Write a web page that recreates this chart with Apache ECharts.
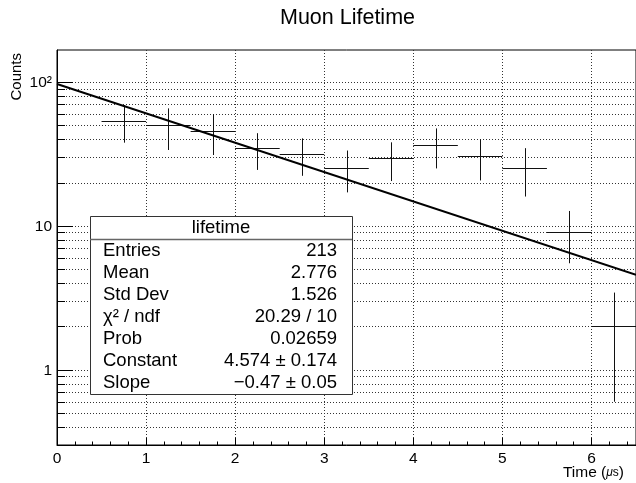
<!DOCTYPE html>
<html>
<head>
<meta charset="utf-8">
<script src="https://cdn.jsdelivr.net/npm/echarts@6/dist/echarts.min.js"></script>
<style>
  html, body { margin: 0; padding: 0; background: #fff; }
  #main { width: 636px; height: 483px; }
</style>
</head>
<body>
<div id="main"></div>
<script>
// histogram bins (width 0.5), value and error bar ends
var binCenters = [0.75, 1.25, 1.75, 2.25, 2.75, 3.25, 3.75, 4.25, 4.75, 5.25, 5.75, 6.25];
var binCounts  = [53.9, 50.0, 45.7, 34.7, 31.5, 25.4, 29.5, 36.5, 30.5, 25.4, 9.1, 2.0];
var errLow     = [37.9, 33.7, 31.1, 24.5, 22.3, 17.1, 20.5, 25.1, 20.7, 16.0, 5.5, 0.6];
var errHigh    = [69.2, 65.6, 59.9, 44.1, 40.6, 33.4, 38.1, 47.6, 40.0, 34.7, 12.7, 3.44];
var binHalf = 0.25;

// exponential fit (straight on log axis), end points
var fitX = [0, 6.5];
var fitY = [96.9, 4.57];

// axis ticks
var xTicks = [0, 1, 2, 3, 4, 5, 6];
var yMajor = [1, 10, 100];
var yMajorLabels = ['1', '10', '10²'];
var yMinor = [0.3, 0.4, 0.5, 0.6, 0.7, 0.8, 0.9, 2, 3, 4, 5, 6, 7, 8, 9, 20, 30, 40, 50, 60, 70, 80, 90];

// stats box
var statsTitle = 'lifetime';
var statsNames  = ['Entries', 'Mean', 'Std Dev', 'χ² / ndf', 'Prob', 'Constant', 'Slope'];
var statsValues = ['213', '2.776', '1.526', '20.29 / 10', '0.02659', '4.574 ± 0.174', '−0.47 ± 0.05'];

var FONT = 'Liberation Sans, Arial, Helvetica, sans-serif';
var X_MIN = 0, X_MAX = 6.5, Y_MIN = 0.3, Y_MAX = 167;

var myChart = echarts.init(document.getElementById('main'), null, { renderer: 'canvas' });

var errData = [];
for (var i = 0; i < binCenters.length; i++) {
  errData.push([binCenters[i], binCounts[i], errLow[i], errHigh[i]]);
}
var fitData = [];
for (var j = 0; j < fitX.length; j++) fitData.push([fitX[j], fitY[j]]);

var yTickData = [];
yMajor.forEach(function (v, k) { yTickData.push([0, v, 1, k]); });
yMinor.forEach(function (v) { yTickData.push([0, v, 0, -1]); });

// stats box graphic (drawn on top of grid lines)
var boxX = 90, boxY = 216, boxW = 262, boxH = 178;
var STATS_FS = 18.5;
var graphics = [
  { type: 'rect', z: 100, shape: { x: boxX + 0.5, y: boxY + 0.5, width: boxW, height: boxH },
    style: { fill: '#fff', stroke: '#333', lineWidth: 1 } },
  { type: 'line', z: 101, shape: { x1: boxX, y1: 239.5, x2: boxX + boxW, y2: 239.5 },
    style: { stroke: '#666', lineWidth: 1.5 } },
  { type: 'text', z: 101, style: { text: statsTitle, x: boxX + boxW / 2, y: 228, align: 'center', verticalAlign: 'middle',
    fontSize: STATS_FS, fontFamily: FONT, fill: '#000' } }
];
statsNames.forEach(function (name, k) {
  var yy = 251 + 21.95 * k;
  graphics.push({ type: 'text', z: 101, style: { text: name, x: 103, y: yy, align: 'left', verticalAlign: 'middle',
    fontSize: STATS_FS, fontFamily: FONT, fill: '#000' } });
  graphics.push({ type: 'text', z: 101, style: { text: statsValues[k], x: 337, y: yy, align: 'right', verticalAlign: 'middle',
    fontSize: STATS_FS, fontFamily: FONT, fill: '#000' } });
});
graphics.push({ type: 'text', z: 100,
  style: { text: 'Muon Lifetime', x: 347.5, y: 18, align: 'center', verticalAlign: 'middle',
    fontSize: 21.5, fontFamily: FONT, fill: '#000' } });
graphics.push({ type: 'text', z: 100, x: 17, y: 53, rotation: Math.PI / 2,
  style: { text: 'Counts', align: 'right', verticalAlign: 'middle', fontSize: 15, fontFamily: FONT, fill: '#000' } });
graphics.push({ type: 'text', z: 100,
  style: { text: '{a|Time (}{m|μ}{s|s}{a|)}', x: 624, y: 473, align: 'right', verticalAlign: 'middle',
    fontFamily: FONT, fill: '#000',
    rich: {
      a: { fontSize: 15.5, fontFamily: FONT, fill: '#000' },
      m: { fontSize: 12, fontStyle: 'italic', fontFamily: FONT, fill: '#000' },
      s: { fontSize: 12, fontFamily: FONT, fill: '#000' }
    } } });

var option = {
  animation: false,
  backgroundColor: '#fff',
  textStyle: { fontFamily: FONT },
  grid: {
    left: 57, right: 0, top: 50, bottom: 38,
    show: true, borderColor: '#000', borderWidth: 1,
    containLabel: false, outerBoundsMode: 'none'
  },
  xAxis: {
    type: 'value',
    min: X_MIN, max: X_MAX, interval: 1,
    axisLine: { show: true, lineStyle: { color: '#000', width: 1 } },
    axisTick: { show: true, inside: true, length: 7, lineStyle: { color: '#000' } },
    minorTick: { show: true, splitNumber: 5, length: 3.5, lineStyle: { color: '#000' } },
    axisLabel: {
      show: true, color: '#000', fontSize: 15.5, margin: 6, fontFamily: FONT,
      showMaxLabel: false,
      formatter: function (v) { return xTicks.indexOf(v) >= 0 ? String(v) : ''; }
    },
    splitLine: { show: true, lineStyle: { color: '#333', width: 1, type: [1, 2] } }
  },
  yAxis: {
    type: 'log', logBase: 10,
    min: Y_MIN, max: Y_MAX,
    axisLine: { show: true, lineStyle: { color: '#000', width: 1 } },
    axisTick: { show: false },
    minorTick: { show: false },
    axisLabel: { show: false },
    splitLine: { show: false }
  },
  graphic: graphics,
  series: [
    {
      // y grid lines, ticks and labels drawn through the log scale
      name: 'yTicks',
      type: 'custom',
      silent: true,
      clip: false,
      z: 1,
      data: yTickData,
      encode: { x: 0, y: 1 },
      renderItem: function (params, api) {
        var v = api.value(1);
        var major = api.value(2) === 1;
        var idx = api.value(3);
        var p0 = api.coord([X_MIN, v]);
        var p1 = api.coord([X_MAX, v]);
        var y = Math.round(p0[1]) + 0.5;
        var kids = [];
        if (v > Y_MIN) {
          kids.push({ type: 'line', shape: { x1: p0[0], y1: y, x2: p1[0], y2: y },
            style: { stroke: '#333', lineWidth: 1, lineDash: [1, 2] } });
        }
        kids.push({ type: 'line', shape: { x1: p0[0], y1: y, x2: p0[0] + (major ? 16 : 8), y2: y },
          style: { stroke: '#000', lineWidth: 1 } });
        if (major) {
          kids.push({ type: 'text', style: { text: yMajorLabels[idx], x: p0[0] - 5, y: y, align: 'right',
            verticalAlign: 'middle', fontSize: 15.5, fontFamily: FONT, fill: '#000' } });
        }
        return { type: 'group', children: kids };
      }
    },
    {
      name: 'lifetime',
      type: 'custom',
      silent: true,
      z: 3,
      data: errData,
      encode: { x: 0, y: 1 },
      renderItem: function (params, api) {
        var x = api.value(0), v = api.value(1), lo = api.value(2), hi = api.value(3);
        var a = api.coord([x - binHalf, v]);
        var b = api.coord([x + binHalf, v]);
        var c = api.coord([x, lo]);
        var d = api.coord([x, hi]);
        var yy = Math.round(a[1]) + 0.5;
        var xx = Math.round(c[0]) + 0.5;
        return {
          type: 'group',
          children: [
            { type: 'line', shape: { x1: a[0], y1: yy, x2: b[0], y2: yy }, style: { stroke: '#111', lineWidth: 1 } },
            { type: 'line', shape: { x1: xx, y1: c[1], x2: xx, y2: d[1] }, style: { stroke: '#111', lineWidth: 1 } }
          ]
        };
      }
    },
    {
      name: 'expo fit',
      type: 'line',
      z: 4,
      data: fitData,
      showSymbol: false,
      symbol: 'none',
      silent: true,
      lineStyle: { color: '#000', width: 2 }
    }
  ]
};

myChart.setOption(option);
window.addEventListener('resize', function () {
  myChart.resize();
});
</script>
</body>
</html>
